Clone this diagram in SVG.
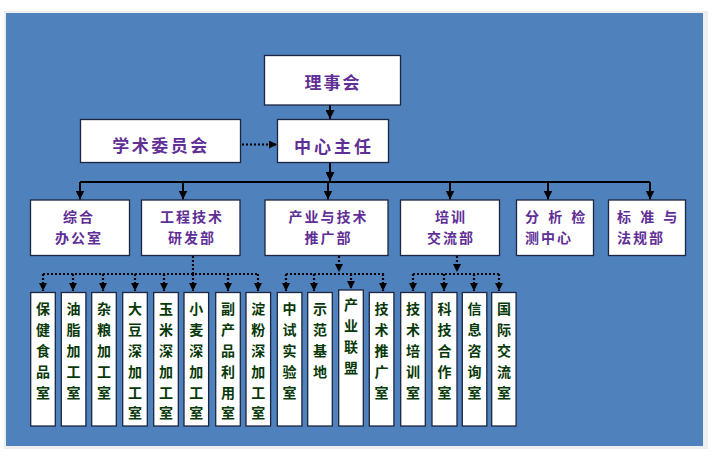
<svg xmlns="http://www.w3.org/2000/svg" width="722" height="474" viewBox="0 0 722 474">
<defs>
<marker id="ah" markerUnits="userSpaceOnUse" markerWidth="9" markerHeight="9" refX="9" refY="4.5" orient="auto">
<path d="M0,0 L9,4.5 L0,9 z" fill="#000"/>
</marker>
<marker id="ahs" markerUnits="userSpaceOnUse" markerWidth="8" markerHeight="8" refX="8" refY="4" orient="auto">
<path d="M0,0 L8,4 L0,8 z" fill="#000"/>
</marker>
</defs>
<style>
.box{fill:#fff;stroke:#1c2640;stroke-width:1.3}
.t{font-family:"Noto Sans CJK SC","Noto Sans",sans-serif;font-weight:bold;fill:#5f2f96}
.top{font-size:17px;text-anchor:middle}
.dep{font-size:14px}
.c{text-anchor:middle}
.sm{font-family:"Noto Sans CJK SC","Noto Sans",sans-serif;font-weight:bold;fill:#073807;font-size:14px;text-anchor:middle}
.ln{fill:none;stroke:#000;stroke-width:2}
.dt{fill:none;stroke:#000;stroke-width:2.2;stroke-dasharray:2 2}
</style>
<rect x="0" y="0" width="722" height="474" fill="#fff"/>
<rect x="4" y="11" width="704" height="438" fill="#eeeeee"/>
<rect x="6" y="13" width="697" height="433" fill="#4f81bd"/>

<g id="connectors">
<line class="ln" x1="330" y1="105" x2="330" y2="119" marker-end="url(#ah)"/>
<line class="dt" x1="242" y1="144.5" x2="277" y2="144.5" marker-end="url(#ahs)"/>
<line class="ln" x1="330" y1="162" x2="330" y2="181" marker-end="url(#ah)"/>
<line class="ln" x1="80" y1="182" x2="650" y2="182"/>
<line class="ln" x1="80" y1="182" x2="80" y2="199.5" marker-end="url(#ah)"/>
<line class="ln" x1="183" y1="182" x2="183" y2="199.5" marker-end="url(#ah)"/>
<line class="ln" x1="328" y1="182" x2="328" y2="199.5" marker-end="url(#ah)"/>
<line class="ln" x1="450" y1="182" x2="450" y2="199.5" marker-end="url(#ah)"/>
<line class="ln" x1="548" y1="182" x2="548" y2="199.5" marker-end="url(#ah)"/>
<line class="ln" x1="650" y1="182" x2="650" y2="199.5" marker-end="url(#ah)"/>

<line class="dt" x1="193" y1="256" x2="193" y2="274"/>
<line class="dt" x1="43" y1="274" x2="259" y2="274"/>
<line class="dt" x1="43" y1="274" x2="43" y2="291" marker-end="url(#ahs)"/>
<line class="dt" x1="73" y1="274" x2="73" y2="291" marker-end="url(#ahs)"/>
<line class="dt" x1="103" y1="274" x2="103" y2="291" marker-end="url(#ahs)"/>
<line class="dt" x1="135" y1="274" x2="135" y2="291" marker-end="url(#ahs)"/>
<line class="dt" x1="164" y1="274" x2="164" y2="291" marker-end="url(#ahs)"/>
<line class="dt" x1="193" y1="274" x2="193" y2="291" marker-end="url(#ahs)"/>
<line class="dt" x1="228" y1="274" x2="228" y2="291" marker-end="url(#ahs)"/>
<line class="dt" x1="258" y1="274" x2="258" y2="291" marker-end="url(#ahs)"/>

<line class="dt" x1="339" y1="256" x2="339" y2="272" marker-end="url(#ahs)"/>
<line class="dt" x1="286" y1="274" x2="384" y2="274"/>
<line class="dt" x1="286" y1="274" x2="286" y2="291" marker-end="url(#ahs)"/>
<line class="dt" x1="314" y1="274" x2="314" y2="291" marker-end="url(#ahs)"/>
<line class="dt" x1="351" y1="274" x2="351" y2="289" marker-end="url(#ahs)"/>
<line class="dt" x1="383" y1="274" x2="383" y2="291" marker-end="url(#ahs)"/>

<line class="dt" x1="457" y1="256" x2="457" y2="272" marker-end="url(#ahs)"/>
<line class="dt" x1="413" y1="274" x2="500" y2="274"/>
<line class="dt" x1="413" y1="274" x2="413" y2="291" marker-end="url(#ahs)"/>
<line class="dt" x1="444" y1="274" x2="444" y2="291" marker-end="url(#ahs)"/>
<line class="dt" x1="474" y1="274" x2="474" y2="291" marker-end="url(#ahs)"/>
<line class="dt" x1="499" y1="274" x2="499" y2="291" marker-end="url(#ahs)"/>
</g>

<g id="lishihui"><rect class="box" x="264.5" y="55.5" width="136" height="49.5"/><text class="t top" x="333" y="88.5" letter-spacing="2">理事会</text></g>
<g id="zhuren"><rect class="box" x="277.5" y="119.5" width="111" height="43"/><text class="t top" x="334" y="153" letter-spacing="3">中心主任</text></g>
<g id="xueshu"><rect class="box" x="80.5" y="119.5" width="160" height="43"/><text class="t top" x="161" y="151.5" letter-spacing="2.5">学术委员会</text></g>

<g id="zonghe"><rect class="box" x="30.5" y="200" width="99" height="55.5"/><text class="t dep c" x="79" y="222" letter-spacing="2">综合</text><text class="t dep c" x="79" y="242.5" letter-spacing="2">办公室</text></g>
<g id="gongcheng"><rect class="box" x="141.5" y="200" width="98.5" height="55.5"/><text class="t dep c" x="192" y="222" letter-spacing="2">工程技术</text><text class="t dep c" x="192" y="242.5" letter-spacing="2">研发部</text></g>
<g id="chanye"><rect class="box" x="265" y="200" width="123" height="55.5"/><text class="t dep c" x="328.5" y="222" letter-spacing="2">产业与技术</text><text class="t dep c" x="328.5" y="242.5" letter-spacing="2">推广部</text></g>
<g id="peixun"><rect class="box" x="400.5" y="200" width="99" height="55.5"/><text class="t dep c" x="451" y="222" letter-spacing="2">培训</text><text class="t dep c" x="451" y="242.5" letter-spacing="2">交流部</text></g>
<g id="fenxi"><rect class="box" x="516.5" y="200" width="77" height="55.5"/><text class="t dep" x="525" y="222" letter-spacing="2" word-spacing="2">分 析 检</text><text class="t dep" x="525" y="242.5" letter-spacing="2">测中心</text></g>
<g id="biaozhun"><rect class="box" x="608.5" y="200" width="77" height="55.5"/><text class="t dep" x="617" y="222" letter-spacing="2" word-spacing="2">标 准 与</text><text class="t dep" x="617" y="242.5" letter-spacing="2">法规部</text></g>

<g id="s1"><rect class="box" x="30.7" y="292.5" width="24.6" height="133.5"/><text class="sm"><tspan x="43" y="314.3">保</tspan><tspan x="43" dy="20.8">健</tspan><tspan x="43" dy="20.8">食</tspan><tspan x="43" dy="20.8">品</tspan><tspan x="43" dy="20.8">室</tspan></text></g>
<g id="s2"><rect class="box" x="61.3" y="292.5" width="24.6" height="133.5"/><text class="sm"><tspan x="73.6" y="314.3">油</tspan><tspan x="73.6" dy="20.8">脂</tspan><tspan x="73.6" dy="20.8">加</tspan><tspan x="73.6" dy="20.8">工</tspan><tspan x="73.6" dy="20.8">室</tspan></text></g>
<g id="s3"><rect class="box" x="91.7" y="292.5" width="24.6" height="133.5"/><text class="sm"><tspan x="104" y="314.3">杂</tspan><tspan x="104" dy="20.8">粮</tspan><tspan x="104" dy="20.8">加</tspan><tspan x="104" dy="20.8">工</tspan><tspan x="104" dy="20.8">室</tspan></text></g>
<g id="s4"><rect class="box" x="122.7" y="292.5" width="24.6" height="133.5"/><text class="sm"><tspan x="135" y="314.3">大</tspan><tspan x="135" dy="20.8">豆</tspan><tspan x="135" dy="20.8">深</tspan><tspan x="135" dy="20.8">加</tspan><tspan x="135" dy="20.8">工</tspan><tspan x="135" dy="20.8">室</tspan></text></g>
<g id="s5"><rect class="box" x="153.7" y="292.5" width="24.6" height="133.5"/><text class="sm"><tspan x="166" y="314.3">玉</tspan><tspan x="166" dy="20.8">米</tspan><tspan x="166" dy="20.8">深</tspan><tspan x="166" dy="20.8">加</tspan><tspan x="166" dy="20.8">工</tspan><tspan x="166" dy="20.8">室</tspan></text></g>
<g id="s6"><rect class="box" x="184" y="292.5" width="24.6" height="133.5"/><text class="sm"><tspan x="196.3" y="314.3">小</tspan><tspan x="196.3" dy="20.8">麦</tspan><tspan x="196.3" dy="20.8">深</tspan><tspan x="196.3" dy="20.8">加</tspan><tspan x="196.3" dy="20.8">工</tspan><tspan x="196.3" dy="20.8">室</tspan></text></g>
<g id="s7"><rect class="box" x="215.7" y="292.5" width="24.6" height="133.5"/><text class="sm"><tspan x="228" y="314.3">副</tspan><tspan x="228" dy="20.8">产</tspan><tspan x="228" dy="20.8">品</tspan><tspan x="228" dy="20.8">利</tspan><tspan x="228" dy="20.8">用</tspan><tspan x="228" dy="20.8">室</tspan></text></g>
<g id="s8"><rect class="box" x="246" y="292.5" width="24.6" height="133.5"/><text class="sm"><tspan x="258.3" y="314.3">淀</tspan><tspan x="258.3" dy="20.8">粉</tspan><tspan x="258.3" dy="20.8">深</tspan><tspan x="258.3" dy="20.8">加</tspan><tspan x="258.3" dy="20.8">工</tspan><tspan x="258.3" dy="20.8">室</tspan></text></g>
<g id="s9"><rect class="box" x="277.3" y="292.5" width="24.6" height="133.5"/><text class="sm"><tspan x="289.6" y="314.3">中</tspan><tspan x="289.6" dy="20.8">试</tspan><tspan x="289.6" dy="20.8">实</tspan><tspan x="289.6" dy="20.8">验</tspan><tspan x="289.6" dy="20.8">室</tspan></text></g>
<g id="s10"><rect class="box" x="307.7" y="292.5" width="24.6" height="133.5"/><text class="sm"><tspan x="320" y="314.3">示</tspan><tspan x="320" dy="20.8">范</tspan><tspan x="320" dy="20.8">基</tspan><tspan x="320" dy="20.8">地</tspan></text></g>
<g id="s11"><rect class="box" x="338.7" y="290" width="24.6" height="136"/><text class="sm"><tspan x="351" y="310.3">产</tspan><tspan x="351" dy="21">业</tspan><tspan x="351" dy="21">联</tspan><tspan x="351" dy="21">盟</tspan></text></g>
<g id="s12"><rect class="box" x="369.3" y="292.5" width="24.6" height="133.5"/><text class="sm"><tspan x="381.6" y="314.3">技</tspan><tspan x="381.6" dy="20.8">术</tspan><tspan x="381.6" dy="20.8">推</tspan><tspan x="381.6" dy="20.8">广</tspan><tspan x="381.6" dy="20.8">室</tspan></text></g>
<g id="s13"><rect class="box" x="400.7" y="292.5" width="24.6" height="133.5"/><text class="sm"><tspan x="413" y="314.3">技</tspan><tspan x="413" dy="20.8">术</tspan><tspan x="413" dy="20.8">培</tspan><tspan x="413" dy="20.8">训</tspan><tspan x="413" dy="20.8">室</tspan></text></g>
<g id="s14"><rect class="box" x="432" y="292.5" width="25" height="133.5"/><text class="sm"><tspan x="444.5" y="314.3">科</tspan><tspan x="444.5" dy="20.8">技</tspan><tspan x="444.5" dy="20.8">合</tspan><tspan x="444.5" dy="20.8">作</tspan><tspan x="444.5" dy="20.8">室</tspan></text></g>
<g id="s15"><rect class="box" x="462.3" y="292.5" width="24.5" height="133.5"/><text class="sm"><tspan x="474.5" y="314.3">信</tspan><tspan x="474.5" dy="20.8">息</tspan><tspan x="474.5" dy="20.8">咨</tspan><tspan x="474.5" dy="20.8">询</tspan><tspan x="474.5" dy="20.8">室</tspan></text></g>
<g id="s16"><rect class="box" x="491.7" y="292.5" width="24.4" height="133.5"/><text class="sm"><tspan x="503.9" y="314.3">国</tspan><tspan x="503.9" dy="20.8">际</tspan><tspan x="503.9" dy="20.8">交</tspan><tspan x="503.9" dy="20.8">流</tspan><tspan x="503.9" dy="20.8">室</tspan></text></g>
</svg>
